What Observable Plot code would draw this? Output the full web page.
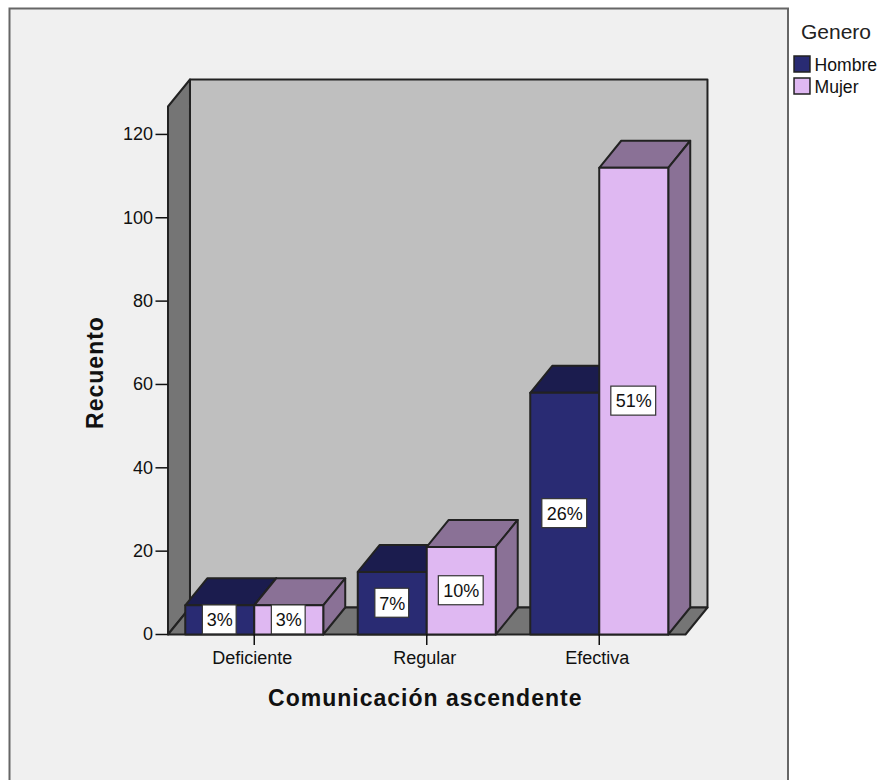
<!DOCTYPE html>
<html>
<head>
<meta charset="utf-8">
<script src="https://cdn.jsdelivr.net/npm/d3@7"></script>
<script src="https://cdn.jsdelivr.net/npm/@observablehq/plot@0.6"></script>
<style>
  body { margin: 0; background: #fff; }
  svg { display: block; }
</style>
</head>
<body>
<div id="chart"></div>
<script>
// Recuento por nivel de comunicación ascendente y género
const categorias = ["Deficiente", "Regular", "Efectiva"];
const hombre = [7, 15, 58];
const mujer = [7, 21, 112];
const pctHombre = ["3%", "7%", "26%"];
const pctMujer = ["3%", "10%", "51%"];
const ticksRecuento = [0, 20, 40, 60, 80, 100, 120];

// Extensión de la caja 3D, en unidades de las escalas
const profX = 0.1274;
const profY = 6.48;
const techo = 126.7;
const mediaBarra = 0.4;

const colores = {
  Hombre: {front: "#292b73", dark: "#1b1c4e"},
  Mujer: {front: "#dfb8f2", dark: "#8a7196"}
};
const borde = "#222";

const poly = (pts) => pts.map(([x, y]) => ({x, y}));
const cara = (pts, fill) => Plot.line(poly(pts), {
  x: "x", y: "y", fill, stroke: borde, strokeWidth: 2,
  curve: "linear-closed", strokeLinejoin: "round"
});

// Paredes y suelo de la caja
const caja = [
  cara([[profX, profY], [3 + profX, profY], [3 + profX, techo + profY], [profX, techo + profY]], "#bfbfbf"),
  cara([[0, 0], [profX, profY], [profX, techo + profY], [0, techo]], "#757575"),
  cara([[0, 0], [3, 0], [3 + profX, profY], [profX, profY]], "#757575")
];

// Cada barra: cara superior, cara lateral y frente
function barra(x0, x1, v, c) {
  return [
    cara([[x0, v], [x1, v], [x1 + profX, v + profY], [x0 + profX, v + profY]], c.dark),
    cara([[x1, 0], [x1 + profX, profY], [x1 + profX, v + profY], [x1, v]], c.dark),
    cara([[x0, 0], [x1, 0], [x1, v], [x0, v]], c.front)
  ];
}

const barras = categorias.flatMap((_, i) => [
  ...barra(i + 0.5 - mediaBarra, i + 0.5, hombre[i], colores.Hombre),
  ...barra(i + 0.5, i + 0.5 + mediaBarra, mujer[i], colores.Mujer)
]);

// Etiquetas de porcentaje con caja blanca, centradas en cada barra
const etiquetas = categorias.flatMap((_, i) => [
  {x: i + 0.5 - mediaBarra / 2, v: hombre[i], t: pctHombre[i]},
  {x: i + 0.5 + mediaBarra / 2, v: mujer[i], t: pctMujer[i]}
]);
const anchoCaja = (d) => (d.t.length === 2 ? 0.098 : 0.13);
const altoCaja = 3.48;

const etiquetaMarks = [
  Plot.rect(etiquetas, {
    x1: (d) => d.x - anchoCaja(d), x2: (d) => d.x + anchoCaja(d),
    y1: (d) => d.v / 2 - altoCaja, y2: (d) => d.v / 2 + altoCaja,
    fill: "#fff", stroke: "#333", strokeWidth: 1.2
  }),
  Plot.text(etiquetas, {
    x: "x", y: (d) => d.v / 2, text: "t",
    fontSize: 18, fill: "#111", dy: 0.5
  })
];

// Leyenda a la derecha, anclada a la esquina del marco
const leyenda = [
  Plot.text(["Genero"], {frameAnchor: "top-left", dx: 633, dy: -75, textAnchor: "start", fontSize: 21, fill: "#222"}),
  Plot.dot(["Hombre"], {frameAnchor: "top-left", dx: 634, dy: -42.5, symbol: "square", r: 9, fill: colores.Hombre.front, stroke: borde, strokeWidth: 1.5}),
  Plot.dot(["Mujer"], {frameAnchor: "top-left", dx: 634, dy: -20.5, symbol: "square", r: 9, fill: colores.Mujer.front, stroke: borde, strokeWidth: 1.5}),
  Plot.text(["Hombre"], {frameAnchor: "top-left", dx: 646.5, dy: -41, textAnchor: "start", fontSize: 17.6, fill: "#111"}),
  Plot.text(["Mujer"], {frameAnchor: "top-left", dx: 646.5, dy: -19, textAnchor: "start", fontSize: 17.6, fill: "#111"})
];

const chart = Plot.plot({
  width: 880,
  height: 780,
  marginLeft: 167.5,
  marginRight: 195,
  marginTop: 106,
  marginBottom: 146,
  style: {fontFamily: "'Liberation Sans', Arial, sans-serif", background: "#fff", color: "#111"},
  x: {domain: [0, 3], axis: null},
  y: {domain: [0, techo], axis: null},
  marks: [
    Plot.frame({
      fill: "#f0f0f0", stroke: "#666", strokeWidth: 2,
      insetLeft: -158.5, insetTop: -98, insetRight: -102.5, insetBottom: -170
    }),
    ...caja,
    ...barras,
    ...etiquetaMarks,
    Plot.axisY({
      ticks: ticksRecuento, tickSize: 12, tickPadding: 3, label: null,
      fontSize: 18, stroke: "#111", strokeWidth: 1.5, fill: "#111"
    }),
    Plot.axisX({
      ticks: categorias.map((_, i) => i + 0.5),
      tickFormat: (d) => categorias[Math.floor(d)],
      tickSize: 11, tickPadding: 6, label: null, textAnchor: "middle",
      fontSize: 18, stroke: "#111", strokeWidth: 1.5, fill: "#111"
    }),
    Plot.text(["Comunicación ascendente"], {
      frameAnchor: "bottom", dy: 63, dx: -1.5, fontSize: 23, fontWeight: "bold",
      fill: "#111"
    }),
    Plot.text(["Recuento"], {
      frameAnchor: "left", dx: -72, dy: 2, rotate: -90, textAnchor: "middle", fontSize: 23, fontWeight: "bold",
      fill: "#111"
    }),
    ...leyenda
  ]
});

// Espaciado de letras de los dos títulos de eje
d3.select(chart).selectAll("text")
  .filter(function () { return ["Comunicación ascendente", "Recuento"].includes(this.textContent); })
  .style("letter-spacing", "1px");

// Ajustes finos de texto: etiquetas de categoría, título inferior y leyenda
const nudges = new Map([
  ["Deficiente", [-2, 0]], ["Regular", [-2, 0]], ["Efectiva", [-2, 0]],
  ["Comunicación ascendente", [0, 8]],
  ["Genero", [0, -7]], ["Hombre", [0, -7]], ["Mujer", [0, -7]]
]);
d3.select(chart).selectAll("text").each(function () {
  const n = nudges.get(this.textContent);
  if (n) d3.select(this).attr("dx", n[0]).attr("dy", null).attr("transform", (this.getAttribute("transform") || "") + ` translate(${n[0]},${n[1]})`).attr("dx", null);
});

document.getElementById("chart").appendChild(chart);
</script>
</body>
</html>
